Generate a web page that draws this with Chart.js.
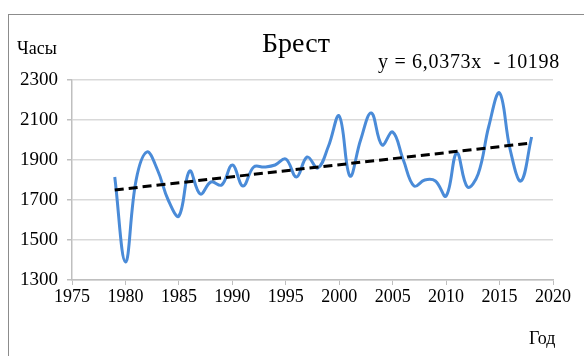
<!DOCTYPE html>
<html>
<head>
<meta charset="utf-8">
<script src="https://cdn.jsdelivr.net/npm/chart.js@4.4.0/dist/chart.umd.min.js"></script>
<style>
  html, body { margin: 0; padding: 0; background: #fff; overflow: hidden; }
  #wrap { position: relative; width: 584px; height: 356px; overflow: hidden; font-family: "Liberation Serif", "DejaVu Serif", serif; }
  #frame { position: absolute; left: 8px; top: 14px; width: 700px; height: 500px; border: 1.5px solid #8c8c8c; box-sizing: border-box; }
  canvas { position: absolute; left: 0; top: 0; }
  .lbl { position: absolute; color: #000; white-space: nowrap; }
</style>
</head>
<body>
<div id="wrap">
  <div id="frame"></div>
  <canvas id="brestChart" width="584" height="356"></canvas>
  <div class="lbl" style="left:262px; top:27px; font-size:28px;">Брест</div>
  <div class="lbl" style="left:17px; top:38px; font-size:18px;">Часы</div>
  <div class="lbl" style="left:378px; top:50px; font-size:20px; letter-spacing:0.7px;">y = 6,0373x&nbsp; - 10198</div>
  <div class="lbl" style="left:529px; top:328px; font-size:18px;">Год</div>
</div>
<script>
var years = [1979, 1980, 1981, 1982, 1983, 1984, 1985, 1986, 1987, 1988, 1989,
             1990, 1991, 1992, 1993, 1994, 1995, 1996, 1997, 1998, 1999,
             2000, 2001, 2002, 2003, 2004, 2005, 2006, 2007, 2008, 2009,
             2010, 2011, 2012, 2013, 2014, 2015, 2016, 2017, 2018];
var hours = [1815, 1390, 1800, 1940, 1850, 1700, 1620, 1845, 1730, 1790, 1775,
             1875, 1770, 1865, 1865, 1875, 1905, 1815, 1915, 1860, 1970,
             2120, 1820, 2000, 2135, 1975, 2040, 1900, 1770, 1800, 1795,
             1720, 1935, 1765, 1830, 2070, 2235, 1950, 1795, 2015];
var trendYears = [1979, 2018];
var trendHours = [1750, 1985];
var xTicks = [1975, 2020, 5];
var yTicks = [1300, 2300, 200];

function pairs(xs, ys) {
  return xs.map(function (x, i) { return { x: x, y: ys[i] }; });
}

var ctx = document.getElementById('brestChart');
var serif = '"Liberation Serif", serif';

new Chart(ctx, {
  type: 'scatter',
  data: {
    datasets: [
      {
        data: pairs(years, hours),
        showLine: true,
        borderColor: '#4a8bd8',
        borderWidth: 3,
        pointRadius: 0,
        tension: 0.4,
        order: 2
      },
      {
        data: pairs(trendYears, trendHours),
        showLine: true,
        borderColor: '#000',
        borderWidth: 3,
        borderDash: [9, 5],
        pointRadius: 0,
        order: 1
      }
    ]
  },
  options: {
    responsive: false,
    animation: false,
    layout: { padding: { left: 12, top: 80, right: 31, bottom: 40 } },
    plugins: { legend: { display: false }, tooltip: { enabled: false } },
    scales: {
      x: {
        type: 'linear',
        min: xTicks[0], max: xTicks[1],
        afterFit: function (s) { s.height = 36; },
        ticks: { stepSize: xTicks[2], color: '#000', font: { family: serif, size: 18 }, padding: 1, maxRotation: 0,
                 callback: function (v) { return String(v); } },
        grid: { display: true, drawOnChartArea: false, color: '#bfbfbf', tickLength: 5 },
        border: { color: '#bfbfbf', width: 1.5 }
      },
      y: {
        min: yTicks[0], max: yTicks[1],
        afterFit: function (s) { s.width = 60; },
        ticks: { stepSize: yTicks[2], color: '#000', font: { family: serif, size: 19 }, padding: 9,
                 callback: function (v) { return String(v); } },
        grid: { color: '#d9d9d9', lineWidth: 1.5, tickLength: 5, tickColor: '#bfbfbf' },
        border: { color: '#bfbfbf', width: 1.5 }
      }
    }
  }
});
</script>
</body>
</html>
